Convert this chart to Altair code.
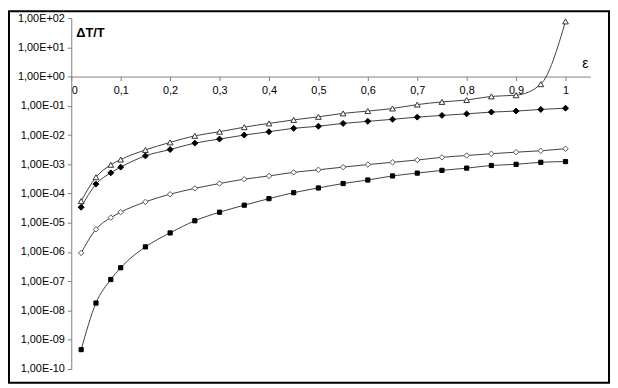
import altair as alt
import pandas as pd

eps = [0.02, 0.05, 0.08, 0.1, 0.15, 0.2, 0.25, 0.3, 0.35, 0.4, 0.45, 0.5,
       0.55, 0.6, 0.65, 0.7, 0.75, 0.8, 0.85, 0.9, 0.95, 1.0]
tri = [5.5e-5, 3.6e-4, 9.6e-4, 1.45e-3, 3.1e-3, 5.6e-3, 9.4e-3, 0.013, 0.0186,
       0.025, 0.033, 0.042, 0.055, 0.066, 0.081, 0.11, 0.136, 0.158, 0.21,
       0.23, 0.55, 77]
fdia = [3.4e-5, 2.1e-4, 5.1e-4, 8e-4, 1.94e-3, 3.2e-3, 5.3e-3, 7.3e-3, 0.01,
        0.013, 0.017, 0.02, 0.025, 0.0295, 0.0345, 0.041, 0.047, 0.053, 0.061,
        0.066, 0.075, 0.083]
odia = [9.3e-7, 6e-6, 1.5e-5, 2.3e-5, 5.2e-5, 9.5e-5, 1.5e-4, 2.2e-4, 3.1e-4,
        4e-4, 5.3e-4, 6.5e-4, 8e-4, 9.8e-4, 1.17e-3, 1.4e-3, 1.73e-3, 2.0e-3,
        2.3e-3, 2.6e-3, 2.9e-3, 3.4e-3]
sq = [4.6e-10, 1.8e-8, 1.15e-7, 2.9e-7, 1.5e-6, 4.5e-6, 1.17e-5, 2.3e-5, 4e-5,
      6.7e-5, 1.07e-4, 1.55e-4, 2.2e-4, 2.9e-4, 4e-4, 5e-4, 6.2e-4, 7.4e-4,
      9.1e-4, 1.0e-3, 1.17e-3, 1.24e-3]

series_names = ["tri", "fdia", "odia", "sq"]
series_vals = [tri, fdia, odia, sq]

y_ticks = [10.0 ** e for e in range(-10, 3)]
y_labels = ["1,00E-10", "1,00E-09", "1,00E-08", "1,00E-07", "1,00E-06",
            "1,00E-05", "1,00E-04", "1,00E-03", "1,00E-02", "1,00E-01",
            "1,00E+00", "1,00E+01", "1,00E+02"]
x_ticks = [i / 10 for i in range(11)]
x_labels = ["0", "0,1", "0,2", "0,3", "0,4", "0,5", "0,6", "0,7", "0,8", "0,9", "1"]

rows = []
for name, vals in zip(series_names, series_vals):
    for e, v in zip(eps, vals):
        rows.append({"eps": e, "val": v, "series": name})
df = pd.DataFrame(rows)

W, H = 525, 355
FONT = "Liberation Sans"

y_label_expr = "[" + ",".join("'%s'" % s for s in y_labels) + "][round(log(datum.value)/LN10)+10]"
x_label_expr = "[" + ",".join("'%s'" % s for s in x_labels) + "][round(datum.value*10)]"

xscale = alt.Scale(domain=[0, 1.05], nice=False, zero=False)
yscale = alt.Scale(type="log", domain=[1e-10, 1e2], nice=False)

xenc = alt.X("eps:Q", scale=xscale, axis=alt.Axis(
    values=x_ticks, labelExpr=x_label_expr, orient="bottom", offset=-H * 10 / 12,
    grid=False, domainColor="#808080", tickColor="#808080", tickSize=4,
    labelFont=FONT, labelFontSize=11, labelColor="black", labelPadding=4,
    title=None, labelOverlap=False))
yenc = alt.Y("val:Q", scale=yscale, axis=alt.Axis(
    values=y_ticks, labelExpr=y_label_expr, grid=False, domainColor="#808080",
    tickColor="#808080", tickSize=4, labelFont=FONT, labelFontSize=11,
    labelColor="black", labelPadding=3, title=None))

base = alt.Chart(df)
lines = base.mark_line(interpolate="monotone", color="#404040", strokeWidth=1).encode(
    x=xenc, y=yenc, detail="series:N")

styles = {
    "tri": dict(shape="triangle-up", fill="white", stroke="#333333", size=34),
    "fdia": dict(shape="diamond", fill="black", stroke="black", size=36),
    "odia": dict(shape="diamond", fill="white", stroke="#555555", size=30),
    "sq": dict(shape="square", fill="black", stroke="black", size=18),
}
point_layers = []
for name in series_names:
    s = styles[name]
    point_layers.append(
        base.transform_filter(alt.datum.series == name).mark_point(
            shape=s["shape"], fill=s["fill"], stroke=s["stroke"], size=s["size"],
            filled=False, fillOpacity=1, strokeWidth=1, opacity=1,
        ).encode(x=xenc, y=yenc)
    )

one = pd.DataFrame({"t": [""]})
title_y = alt.Chart(pd.DataFrame({"t": ["ΔT/T"]})).mark_text(
    font=FONT, fontSize=13, fontWeight="bold", align="left", baseline="middle",
    color="black").encode(text="t:N", x=alt.value(5), y=alt.value(15))
title_x = alt.Chart(pd.DataFrame({"t": ["ε"]})).mark_text(
    font=FONT, fontSize=14, align="center", baseline="middle",
    color="black").encode(text="t:N", x=alt.value(520), y=alt.value(47))
frame = alt.Chart(one).mark_rect(fill=None, stroke="black", strokeWidth=2).encode(
    x=alt.value(-63), x2=alt.value(W + 19), y=alt.value(-7), y2=alt.value(H + 14))

chart = alt.layer(frame, lines, *point_layers, title_y, title_x).properties(
    width=W, height=H, autosize="none",
    padding={"left": 64, "top": 8, "right": 20, "bottom": 15},
).configure_view(stroke=None)

chart.save("out.html", embed_options={"renderer": "svg", "actions": False})
